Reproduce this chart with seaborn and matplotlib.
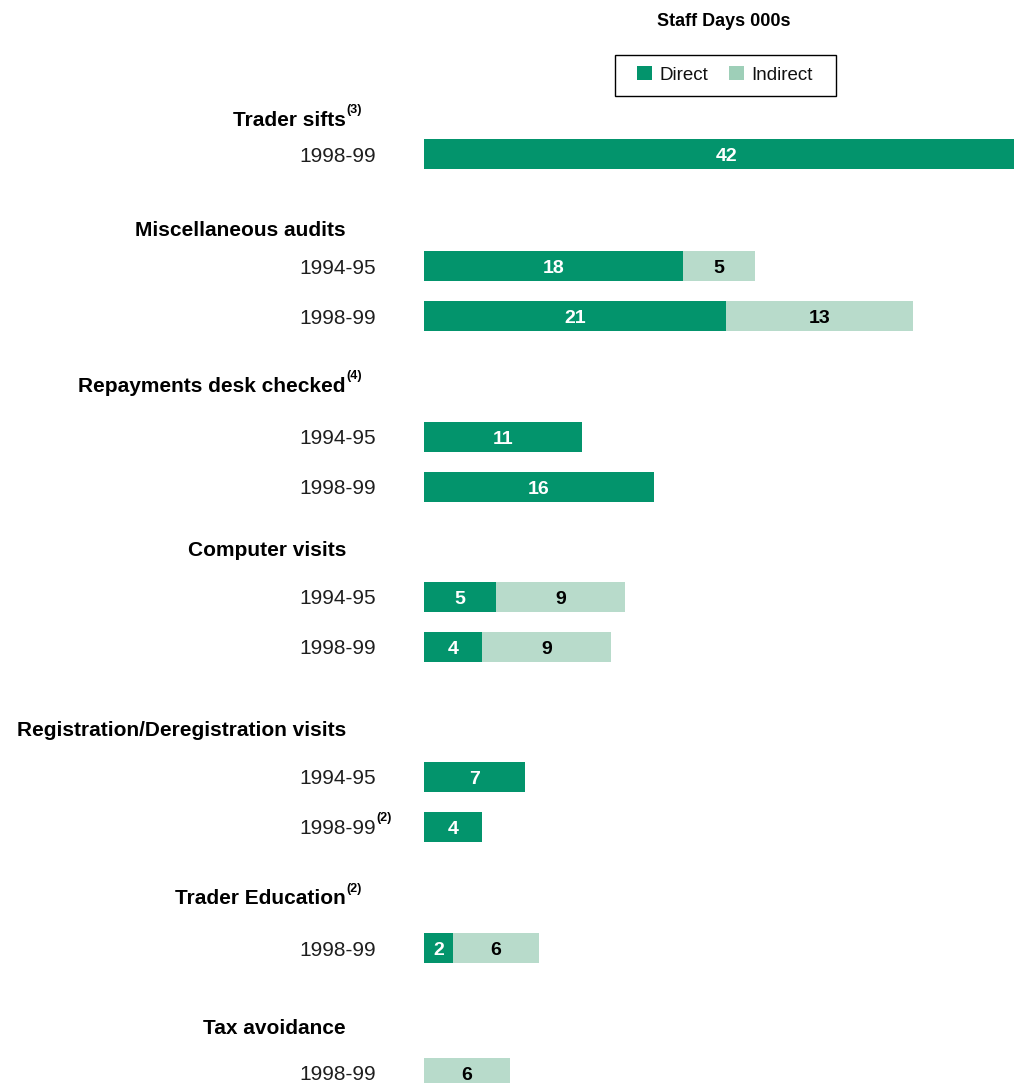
import matplotlib
matplotlib.use("Agg")
import matplotlib.pyplot as plt
from matplotlib.patches import Patch, Rectangle
from matplotlib.transforms import blended_transform_factory
import pandas as pd
import seaborn as sns

# Staff days (thousands) per activity and year
groups = ["Trader sifts", "Miscellaneous audits", "Repayments desk checked",
          "Computer visits", "Registration/Deregistration visits",
          "Trader Education", "Tax avoidance"]
group_notes = ["(3)", "", "(4)", "", "", "(2)", ""]

row_group = [0, 1, 1, 2, 2, 3, 3, 4, 4, 5, 6]
row_years = ["1998-99", "1994-95", "1998-99", "1994-95", "1998-99",
             "1994-95", "1998-99", "1994-95", "1998-99", "1998-99", "1998-99"]
row_notes = ["", "", "", "", "", "", "", "", "(2)", "", ""]
direct = [42, 18, 21, 11, 16, 5, 4, 7, 4, 2, 0]
indirect = [0, 5, 13, 0, 0, 9, 9, 0, 0, 6, 6]

# vertical layout (pixel rows of the figure)
row_y = [154, 266, 316, 437, 487, 597, 647, 777, 827, 948, 1073]
group_y = [118, 228, 384, 549, 728, 897, 1027]

DIRECT = "#03946c"
INDIRECT = "#b8dbcb"
INDIRECT_KEY = "#9ecfb8"

df = pd.DataFrame({"pos": row_y, "direct": direct, "indirect": indirect})
df["total"] = df["direct"] + df["indirect"]

sns.set_theme(style="white")
plt.rcParams["font.family"] = ["Liberation Sans", "DejaVu Sans"]
plt.rcParams["text.color"] = "black"

W, H = 1014, 1083
PX_PER_PT = 100 / 72
fig = plt.figure(figsize=(W / 100, H / 100), dpi=100)
ax = fig.add_axes([424 / W, 0, 1 - 424 / W, 1])

# stacked bars: full total in light colour, direct share on top
bar_kw = dict(orient="y", native_scale=True, saturation=1, width=0.6,
              errorbar=None, ax=ax, linewidth=0, edgecolor="none")
sns.barplot(data=df, x="total", y="pos", color=INDIRECT, **bar_kw)
sns.barplot(data=df, x="direct", y="pos", color=DIRECT, **bar_kw)

ax.set_xlim(0, 41)
ax.set_ylim(H, 0)
ax.axis("off")


def base(y, size):
    """Baseline that visually centres cap-height text on row y."""
    return y + 0.36 * size * PX_PER_PT


VAL = 14
for y, d, i in zip(row_y, direct, indirect):
    if d:
        ax.text(d / 2, base(y, VAL), str(d), color="white", ha="center",
                va="baseline", fontsize=VAL, fontweight="bold")
    if i:
        ax.text(d + i / 2, base(y, VAL), str(i), color="black", ha="center",
                va="baseline", fontsize=VAL, fontweight="bold")

tr = blended_transform_factory(fig.transFigure, ax.transData)

# group headings
HEAD = 15
for name, note, y in zip(groups, group_notes, group_y):
    ax.text(346 / W, base(y, HEAD), name, transform=tr, ha="right",
            va="baseline", fontsize=HEAD, fontweight="bold", color="black",
            clip_on=False)
    if note:
        ax.text(346 / W, y - 8, note, transform=tr, ha="left", va="center",
                fontsize=9, fontweight="bold", color="black", clip_on=False)

# year labels
YEAR = 15
for yr, note, y in zip(row_years, row_notes, row_y):
    ax.text(376 / W, base(y, YEAR), yr, transform=tr, ha="right",
            va="baseline", fontsize=YEAR, color="#1e1e1e", clip_on=False)
    if note:
        ax.text(376 / W, y - 9, note, transform=tr, ha="left", va="center",
                fontsize=9, fontweight="bold", color="black", clip_on=False)

fig.text(724 / W, 1 - 22 / H, "Staff Days 000s", ha="center", va="center",
         fontsize=13, fontweight="bold", color="black")

# legend frame and keys
fig.add_artist(Rectangle((615 / W, 1 - 96 / H), 221 / W, 41 / H,
                         transform=fig.transFigure, facecolor="white",
                         edgecolor="black", linewidth=1.0))
handles = [Patch(facecolor=DIRECT, edgecolor="none", label="Direct"),
           Patch(facecolor=INDIRECT_KEY, edgecolor="none", label="Indirect")]
leg = fig.legend(handles=handles, loc="center", ncol=2,
                 bbox_to_anchor=(725 / W, 1 - 75 / H), frameon=False,
                 fontsize=13.5, handlelength=0.78, handleheight=0.78,
                 handletextpad=0.4, columnspacing=1.15, borderpad=0,
                 borderaxespad=0)
for t in leg.get_texts():
    t.set_color("#111111")

fig.savefig("out.png", dpi=100)
